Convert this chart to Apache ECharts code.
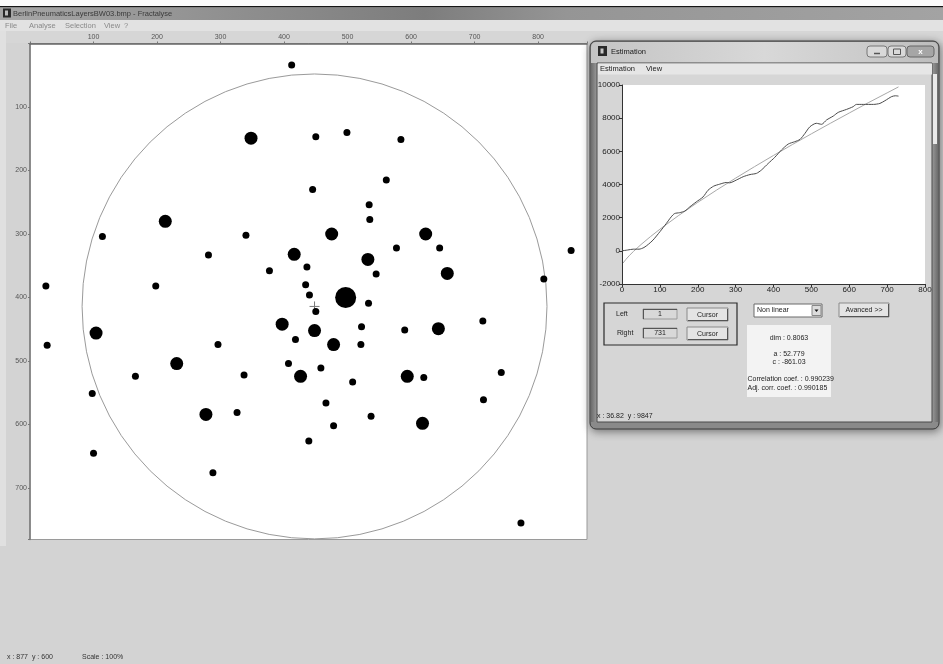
<!DOCTYPE html>
<html>
<head>
<meta charset="utf-8">
<title>Fractalyse</title>
<script src="https://cdn.jsdelivr.net/npm/echarts@6/dist/echarts.min.js"></script>
<style>
html,body{margin:0;padding:0;background:#d3d3d3;overflow:hidden}
#chart{width:943px;height:664px}
</style>
</head>
<body>
<div id="chart"></div>
<script>
// ---- layer image: pixel ruler ticks ----
const rulerTicksX = [100, 200, 300, 400, 500, 600, 700, 800];
const rulerTicksY = [100, 200, 300, 400, 500, 600, 700];

// ---- dots of the layer (pixel coordinates, y down) ----
const smallDots = [
  [412, 34], [450, 147], [499, 140], [584, 151], [445, 230], [561, 215], [534, 254], [535, 277],
  [114, 304], [340, 302], [577, 322], [645, 322], [281, 333], [436, 352], [377, 358], [545, 363],
  [852, 326], [809, 371], [25, 382], [198, 382], [434, 380], [440, 396], [533, 409], [450, 422],
  [27, 475], [296, 474], [418, 466], [522, 446], [590, 451], [713, 437], [521, 474], [166, 524],
  [337, 522], [407, 504], [458, 511], [508, 533], [620, 526], [742, 518], [98, 551], [326, 581],
  [466, 566], [714, 561], [537, 587], [478, 602], [439, 626], [100, 645], [288, 676], [773, 755]
];
const largeDots = [
  [348, 149], [213, 280], [475, 300], [623, 300], [416, 332], [532, 340], [657, 362], [104, 456],
  [397, 442], [448, 452], [643, 449], [478, 474], [231, 504], [426, 524], [594, 524], [277, 584],
  [618, 598]
];
const centralDot = [[497, 400]];
// counting circle: centre x, centre y, radius
const countingCircle = [[448, 414, 366]];

// ---- estimation: cumulated count vs. radius ----
const countRadius = [0, 15, 30, 45, 58, 70, 82, 100, 117, 130, 139, 152, 166, 179, 196, 214, 227, 242,
  258, 275, 284, 302, 320, 338, 355, 368, 386, 403, 421, 439, 456, 470, 483, 496, 513, 527, 540, 558,
  571, 593, 610, 619, 637, 664, 681, 694, 712, 722, 730];
const countValue = [0, 50, 100, 100, 200, 400, 650, 1150, 1650, 2050, 2250, 2300, 2400, 2650, 2950, 3250,
  3650, 3900, 4020, 4120, 4100, 4270, 4470, 4600, 4670, 4870, 5270, 5630, 6080, 6440, 6580, 6720, 7080,
  7480, 7690, 7630, 7890, 8130, 8350, 8530, 8690, 8830, 8830, 8830, 8890, 9050, 9300, 9350, 9330];
const fitRadius = [3, 10, 20, 30, 50, 75, 100, 150, 200, 250, 300, 350, 400, 450, 500, 550, 600, 650, 700, 730];
const fitValue = [-733, -523, -270, -42, 376, 854, 1302, 2139, 2922, 3668, 4385, 5077, 5752, 6412, 7056,
  7689, 8312, 8929, 9526, 9885];
const estTicksX = [0, 100, 200, 300, 400, 500, 600, 700, 800];
const estTicksY = [-2000, 0, 2000, 4000, 6000, 8000, 10000];

const FONT = '"Liberation Sans", Arial, sans-serif';
const font = (s) => s + 'px ' + FONT;

function rect(x, y, w, h, style, z, r) {
  return { type: 'rect', silent: true, z: z == null ? -5 : z,
    shape: { x, y, width: w, height: h, r: r || 0 }, style };
}
function txt(x, y, text, size, opts) {
  return { type: 'text', silent: true, z: 20, x, y,
    style: Object.assign({ text, font: font(size), fill: '#222',
      textAlign: 'left', textVerticalAlign: 'middle', align: 'left', verticalAlign: 'middle' }, opts || {}) };
}
function line(x1, y1, x2, y2, color, w, z) {
  return { type: 'line', silent: true, z: z == null ? 15 : z,
    shape: { x1, y1, x2, y2 }, style: { stroke: color, lineWidth: w || 1 } };
}
function button(x, y, w, h, label) {
  return [
    rect(x, y, w, h, { fill: '#e4e4e4', stroke: '#8a8a8a', lineWidth: 1 }, 6),
    line(x + 1, y + h - 0.5, x + w, y + h - 0.5, '#555', 1, 7),
    line(x + w - 0.5, y + 1, x + w - 0.5, y + h, '#555', 1, 7),
    txt(x + w / 2, y + h / 2 + 0.5, label, 7, { textAlign: 'center', align: 'center' })
  ];
}
function field(x, y, w, h, value) {
  return [
    rect(x, y, w, h, { fill: '#d8d8d8', stroke: '#9a9a9a', lineWidth: 1 }, 6),
    line(x, y + 0.5, x + w, y + 0.5, '#555', 1, 7),
    line(x + 0.5, y, x + 0.5, y + h, '#555', 1, 7),
    txt(x + w / 2, y + h / 2 + 0.5, value, 7, { textAlign: 'center', align: 'center' })
  ];
}

const graphics = [
  // main window chrome
  rect(0, 0, 943, 6, { fill: '#fbfbfb' }, -20),
  rect(0, 6, 943, 1.5, { fill: '#151515' }, -19),
  rect(0, 7.5, 943, 12.5, { fill: { type: 'linear', x: 0, y: 0, x2: 1, y2: 0, colorStops: [
    { offset: 0, color: '#a6a6a6' }, { offset: 0.25, color: '#8f8f8f' }, { offset: 0.45, color: '#7d7d7d' },
    { offset: 0.6, color: '#959595' }, { offset: 1, color: '#a3a3a3' }] } }, -19),
  rect(3, 8.5, 8, 9, { fill: '#2a2a2a' }, -18),
  rect(5, 10.5, 3, 5, { fill: '#bdbdbd' }, -17),
  txt(13, 14, 'BerlinPneumaticsLayersBW03.bmp - Fractalyse', 7.5, { fill: '#3a3a3a' }),
  rect(0, 20, 943, 11, { fill: '#e2e2e2' }, -19),
  txt(5, 25.5, 'File', 7.5, { fill: '#8a8a8a' }),
  txt(29, 25.5, 'Analyse', 7.5, { fill: '#8a8a8a' }),
  txt(65, 25.5, 'Selection', 7.5, { fill: '#8a8a8a' }),
  txt(104, 25.5, 'View', 7.5, { fill: '#8a8a8a' }),
  txt(124, 25.5, '?', 7.5, { fill: '#8a8a8a' }),
  rect(0, 31, 943, 12, { fill: '#d6d6d6' }, -19),
  rect(0, 31, 6, 515, { fill: '#e0e0e0' }, -18),
  rect(30, 43.5, 557, 496, { fill: '#ffffff', stroke: '#9a9a9a', lineWidth: 1 }, -15),
  txt(7, 657, 'x : 877  y : 600', 7, { fill: '#333' }),
  txt(82, 657, 'Scale : 100%', 7, { fill: '#333' }),

  // estimation window frame
  rect(590, 41, 349, 388, { fill: '#8e8e8e', stroke: '#3a3a3a', lineWidth: 1,
    shadowBlur: 8, shadowColor: 'rgba(0,0,0,0.45)', shadowOffsetX: 1, shadowOffsetY: 2 }, -12, 6),
  rect(591, 42, 347, 21, { fill: { type: 'linear', x: 0, y: 0, x2: 1, y2: 0, colorStops: [
    { offset: 0, color: '#c4c4c4' }, { offset: 0.5, color: '#d8d8d8' }, { offset: 0.8, color: '#cbcbcb' },
    { offset: 1, color: '#bcbcbc' }] } }, -11, [5, 5, 0, 0]),
  rect(591, 63, 6, 360, { fill: { type: 'linear', x: 0, y: 0, x2: 1, y2: 0, colorStops: [
    { offset: 0, color: '#6c6c6c' }, { offset: 1, color: '#9a9a9a' }] } }, -11),
  rect(932, 63, 6, 360, { fill: { type: 'linear', x: 0, y: 0, x2: 1, y2: 0, colorStops: [
    { offset: 0, color: '#9a9a9a' }, { offset: 1, color: '#6c6c6c' }] } }, -11),
  rect(933, 74, 4, 70, { fill: '#e9e9e9' }, -10),
  rect(591, 422, 347, 6, { fill: '#8a8a8a' }, -11, [0, 0, 5, 5]),
  rect(598, 46, 9, 10, { fill: '#2a2a2a' }, -9),
  rect(600.5, 48.5, 3, 5, { fill: '#c8c8c8' }, -8),
  txt(611, 52, 'Estimation', 7.5, { fill: '#1a1a1a' }),
  // caption buttons
  rect(867, 46, 20, 11, { fill: '#d9d9d9', stroke: '#777', lineWidth: 1 }, -9, 3),
  line(874, 53.5, 880, 53.5, '#555', 1.5),
  rect(888, 46, 18, 11, { fill: '#d9d9d9', stroke: '#777', lineWidth: 1 }, -9, 3),
  rect(893.5, 49, 7, 5.5, { fill: 'none', stroke: '#555', lineWidth: 1 }, 15),
  rect(907, 46, 27, 11, { fill: '#a6a6a6', stroke: '#666', lineWidth: 1 }, -9, 3),
  txt(920.5, 51.5, 'x', 8, { fill: '#ffffff', textAlign: 'center', align: 'center', font: 'bold 8px ' + FONT }),
  // client area
  rect(597, 63, 335, 359, { fill: '#d6d6d6', stroke: '#4a4a4a', lineWidth: 1 }, -10),
  rect(598, 63.5, 334, 11, { fill: '#e6e6e6' }, -9),
  txt(600, 69, 'Estimation', 7.5),
  txt(646, 69, 'View', 7.5),
  rect(622, 85, 303, 199, { fill: '#ffffff' }, -8),

  // cursor group box
  rect(604, 303, 133, 42, { fill: 'none', stroke: '#2a2a2a', lineWidth: 1.2 }, 5),
  txt(616, 314, 'Left', 7),
  txt(617, 333, 'Right', 7),
  ...field(643, 309, 34, 10, '1'),
  ...field(643, 328, 34, 10, '731'),
  ...button(687, 308, 41, 13, 'Cursor'),
  ...button(687, 327, 41, 13, 'Cursor'),
  // model selector
  rect(754, 304, 68, 13, { fill: '#ffffff', stroke: '#6a6a6a', lineWidth: 1 }, 6),
  txt(757, 310.5, 'Non linear', 7),
  rect(812, 305.5, 9, 10, { fill: '#dcdcdc', stroke: '#888', lineWidth: 1 }, 7),
  { type: 'polygon', silent: true, z: 8, shape: { points: [[814.5, 309.5], [818.5, 309.5], [816.5, 312]] },
    style: { fill: '#111' } },
  ...button(839, 303, 50, 14, 'Avanced >>'),
  // result box
  rect(747, 325, 84, 72, { fill: '#f3f3f3' }, 5),
  txt(789, 338, 'dim : 0.8063', 7, { textAlign: 'center', align: 'center' }),
  txt(789, 354, 'a : 52.779', 7, { textAlign: 'center', align: 'center' }),
  txt(789, 362, 'c : -861.03', 7, { textAlign: 'center', align: 'center' }),
  txt(747.5, 379, 'Correlation coef. : 0.990239', 7),
  txt(747.5, 388, 'Adj. corr. coef. : 0.990185', 7),
  txt(597, 416, 'x : 36.82  y : 9847', 7)
];

const onlyTicks = (list) => (v) => (list.indexOf(v) >= 0 ? String(v) : '');
const dotStyle = { color: '#000', opacity: 1 };

const chart = echarts.init(document.getElementById('chart'), null, { renderer: 'canvas' });
chart.setOption({
  backgroundColor: '#d3d3d3',
  animation: false,
  textStyle: { fontFamily: FONT },
  graphic: { elements: graphics },
  grid: [
    { left: 30, top: 43.5, width: 557, height: 496, containLabel: false },
    { left: 622, top: 85, width: 303, height: 199, containLabel: false }
  ],
  xAxis: [
    { gridIndex: 0, type: 'value', position: 'top', min: 0, max: 877, interval: 100,
      axisLine: { lineStyle: { color: '#666', width: 1.5 } },
      axisTick: { length: 2, lineStyle: { color: '#777' } },
      axisLabel: { fontSize: 7, color: '#555', margin: 3, formatter: onlyTicks(rulerTicksX) },
      splitLine: { show: false } },
    { gridIndex: 1, type: 'value', min: 0, max: 800, interval: 100,
      axisLine: { onZero: false, lineStyle: { color: '#333', width: 1 } },
      axisTick: { length: 3, lineStyle: { color: '#333' } },
      axisLabel: { fontSize: 8, color: '#222', margin: 2, formatter: onlyTicks(estTicksX) },
      splitLine: { show: false } }
  ],
  yAxis: [
    { gridIndex: 0, type: 'value', inverse: true, min: 0, max: 781, interval: 100,
      axisLine: { lineStyle: { color: '#777', width: 1.5 } },
      axisTick: { length: 2, lineStyle: { color: '#777' } },
      axisLabel: { fontSize: 7, color: '#555', margin: 3, formatter: onlyTicks(rulerTicksY) },
      splitLine: { show: false } },
    { gridIndex: 1, type: 'value', min: -2000, max: 10000, interval: 2000,
      axisLine: { onZero: false, lineStyle: { color: '#333', width: 1 } },
      axisTick: { length: 3, lineStyle: { color: '#333' } },
      axisLabel: { fontSize: 8, color: '#222', margin: 2, formatter: onlyTicks(estTicksY) },
      splitLine: { show: false } }
  ],
  series: [
    { type: 'custom', xAxisIndex: 0, yAxisIndex: 0, data: countingCircle, z: 3,
      renderItem: (params, api) => {
        const c = api.coord([api.value(0), api.value(1)]);
        const r = api.size([api.value(2), api.value(2)])[0];
        return { type: 'group', children: [
          { type: 'circle', shape: { cx: c[0], cy: c[1], r },
            style: { fill: 'none', stroke: '#9a9a9a', lineWidth: 1 } },
          { type: 'line', shape: { x1: c[0] - 5, y1: c[1], x2: c[0] + 5, y2: c[1] },
            style: { stroke: '#777', lineWidth: 1 } },
          { type: 'line', shape: { x1: c[0], y1: c[1] - 5, x2: c[0], y2: c[1] + 5 },
            style: { stroke: '#777', lineWidth: 1 } }
        ] };
      } },
    { type: 'scatter', xAxisIndex: 0, yAxisIndex: 0, data: smallDots, symbolSize: 7,
      itemStyle: dotStyle, z: 4 },
    { type: 'scatter', xAxisIndex: 0, yAxisIndex: 0, data: largeDots, symbolSize: 13,
      itemStyle: dotStyle, z: 4 },
    { type: 'scatter', xAxisIndex: 0, yAxisIndex: 0, data: centralDot, symbolSize: 21,
      itemStyle: dotStyle, z: 4 },
    { type: 'line', xAxisIndex: 1, yAxisIndex: 1, showSymbol: false, z: 4,
      data: fitRadius.map((x, i) => [x, fitValue[i]]),
      lineStyle: { color: '#a8a8a8', width: 1 } },
    { type: 'line', xAxisIndex: 1, yAxisIndex: 1, showSymbol: false, smooth: 0.25, z: 5,
      data: countRadius.map((x, i) => [x, countValue[i]]),
      lineStyle: { color: '#4a4a4a', width: 1 } }
  ]
});
</script>
</body>
</html>
